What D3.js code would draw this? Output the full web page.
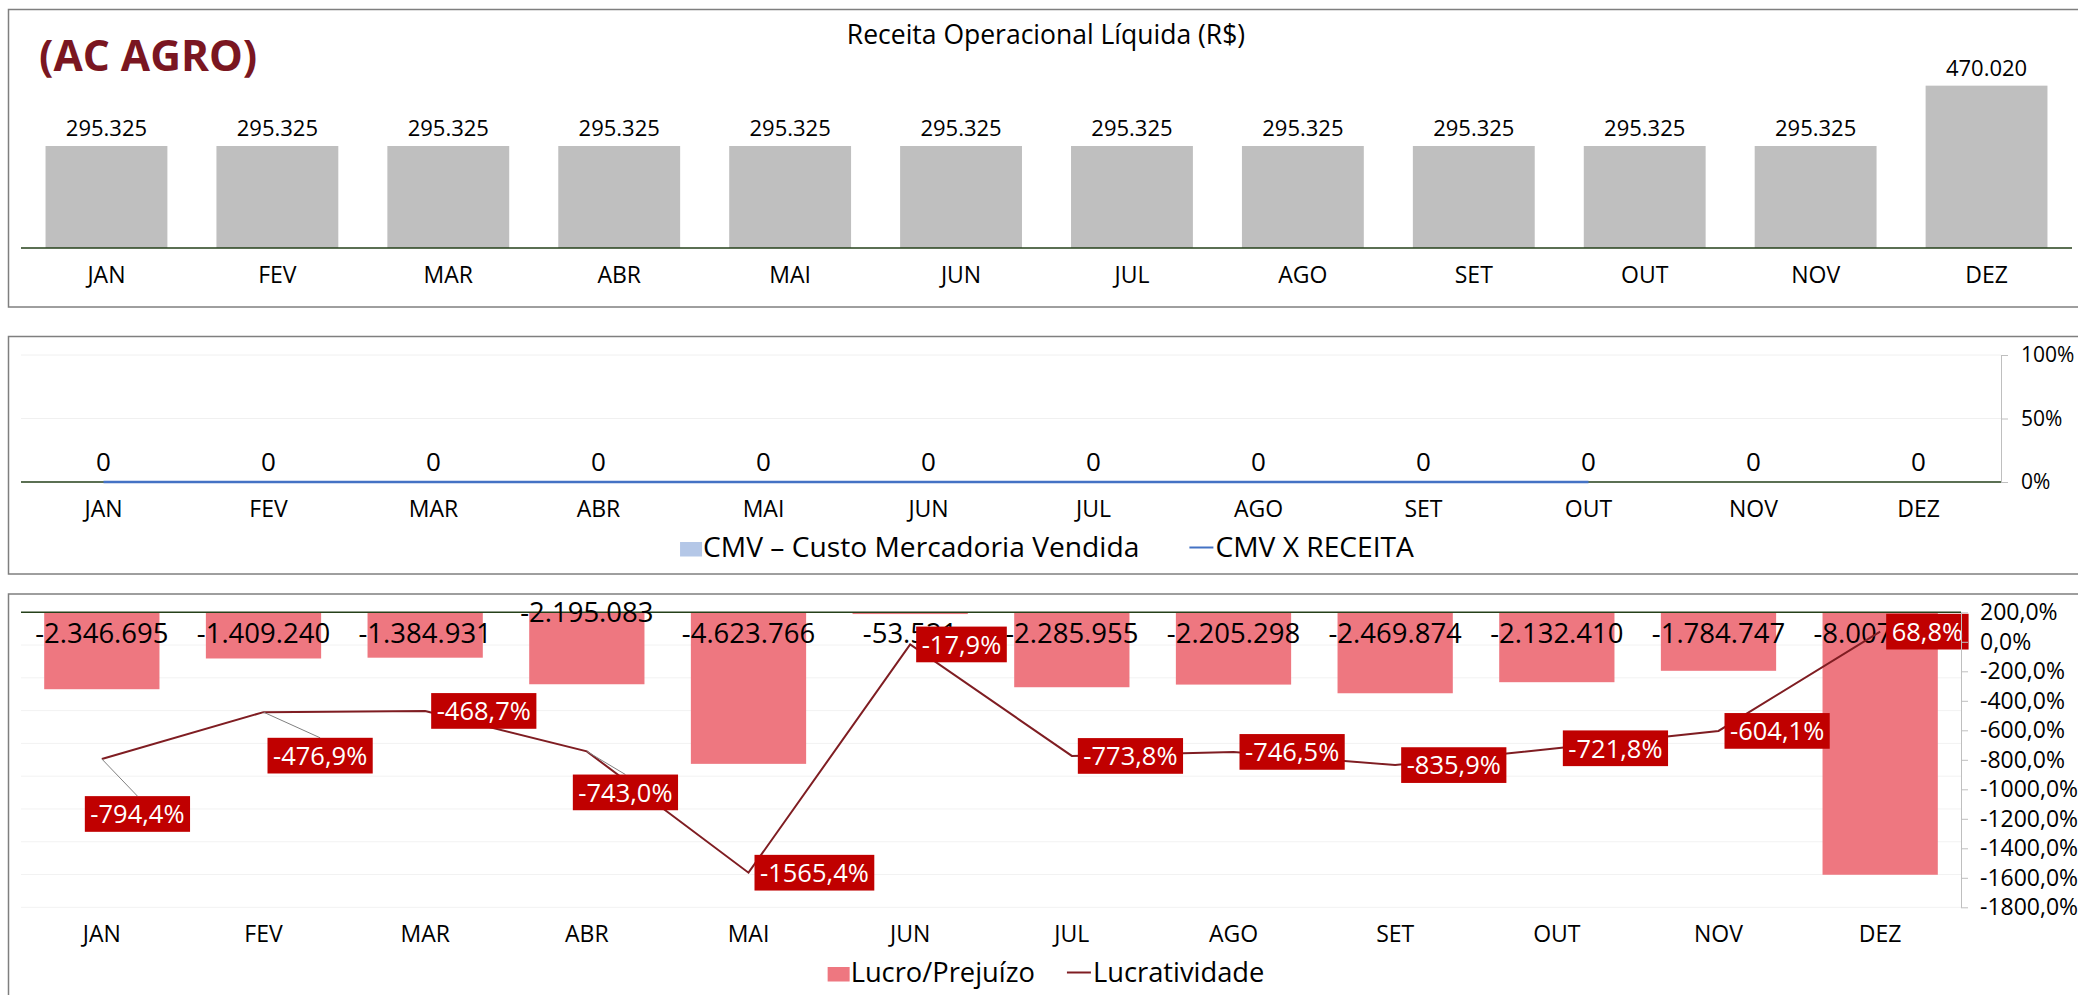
<!DOCTYPE html>
<html>
<head>
<meta charset="utf-8">
<script src="https://cdn.jsdelivr.net/npm/d3@7"></script>
<style>
body { margin: 0; background: #fff; }
text { font-family: "Open Sans", sans-serif; fill: #000; }
</style>
</head>
<body>
<div id="chart"></div>
<script>
var months = ["JAN", "FEV", "MAR", "ABR", "MAI", "JUN", "JUL", "AGO", "SET", "OUT", "NOV", "DEZ"];
var receita = [295325, 295325, 295325, 295325, 295325, 295325, 295325, 295325, 295325, 295325, 295325, 470020];
var cmv = [0, 0, 0, 0, 0, 0, 0, 0, 0, 0, 0, 0];
var cmvReceita = [0, 0, 0, 0, 0, 0, 0, 0, 0, 0, null, null];
var lucro = [-2346695, -1409240, -1384931, -2195083, -4623766, -53521, -2285955, -2205298, -2469874, -2132410, -1784747, -8007256];
var lucratividade = [-794.4, -476.9, -468.7, -743.0, -1565.4, -17.9, -773.8, -746.5, -835.9, -721.8, -604.1, 68.8];
var pctTicks2 = [0, 0.5, 1];
var pctTicks3 = [200, 0, -200, -400, -600, -800, -1000, -1200, -1400, -1600, -1800];

// labels Excel moved by hand (layout only)
var labelNudge = { JAN: [-23, 55], FEV: [-2, 43.5], ABR: [-20, 41] };
var barLabelNudge = { ABR: -21.5 };

(function() {
    var width = 2078,
        height = 995;

    var locale = d3.formatLocale({ decimal: ",", thousands: ".", grouping: [3], currency: ["R$", ""], minus: "-" });
    var fmtNum = locale.format(",.0f"),
        fmtPct0 = locale.format(".0%"),
        fmt1 = locale.format(".1f"),
        fmtPct1 = function(v) { return fmt1(v) + "%"; };

    var baseColor = "#25411a";

    var svg = d3.select("#chart")
        .append("svg")
        .attr("width", width)
        .attr("height", height);

    function frame(y0, y1) {
        svg.append("rect")
            .attr("x", 8.5)
            .attr("y", y0)
            .attr("width", 2100)
            .attr("height", y1 - y0)
            .attr("fill", "none")
            .attr("stroke", "#7f7f7f")
            .attr("stroke-width", 1.5);
    }

    function categories(x, y, size) {
        var g = svg.append("g")
            .attr("transform", "translate(0," + y + ")")
            .call(d3.axisBottom(x).tickSize(0));
        g.select(".domain").remove();
        g.selectAll("text")
            .attr("y", 0)
            .attr("dy", null)
            .style("font-family", "Open Sans")
            .style("font-size", size + "px")
            .attr("fill", "#000");
    }

    function legend(items, cx, base, gap, size) {
        var g = svg.append("g"),
            cur = 0;
        items.forEach(function(it, i) {
            if (it.type == "rect") {
                g.append("rect")
                    .attr("x", cur).attr("y", base - 14.5)
                    .attr("width", 22).attr("height", 14.5)
                    .attr("fill", it.color);
            } else {
                g.append("line")
                    .attr("x1", cur).attr("x2", cur + 24)
                    .attr("y1", base - 9).attr("y2", base - 9)
                    .attr("stroke", it.color)
                    .attr("stroke-width", 2);
            }
            cur += it.type == "rect" ? 23 : 26;
            var t = g.append("text")
                .attr("x", cur).attr("y", base)
                .style("font-size", size + "px")
                .text(it.label);
            cur += t.node().getComputedTextLength();
            if (i < items.length - 1) cur += gap;
        });
        g.attr("transform", "translate(" + (cx - cur / 2) + ",0)");
    }

    /* ---------- panel 1 : Receita ---------- */
    frame(9.5, 307);

    var x1 = d3.scaleBand().domain(months).range([21, 2072]).paddingInner(0.287).paddingOuter(0.1435);
    var y1 = d3.scaleLinear().domain([0, 500000]).range([248, 75.3]);

    svg.append("text")
        .attr("x", 1046).attr("y", 44)
        .attr("text-anchor", "middle")
        .style("font-size", "26.5px")
        .text("Receita Operacional Líquida (R$)");

    svg.append("text")
        .attr("x", 39).attr("y", 71)
        .style("font-size", "42.5px")
        .style("font-weight", "bold")
        .style("fill", "#7a1621")
        .text("(AC AGRO)");

    svg.selectAll(".rec")
        .data(receita)
        .enter().append("rect")
        .attr("class", "rec")
        .attr("x", function(d, i) { return x1(months[i]); })
        .attr("width", x1.bandwidth())
        .attr("y", function(d) { return y1(d); })
        .attr("height", function(d) { return y1(0) - y1(d); })
        .attr("fill", "#bfbfbf");

    svg.selectAll(".rec-label")
        .data(receita)
        .enter().append("text")
        .attr("class", "rec-label")
        .attr("x", function(d, i) { return x1(months[i]) + x1.bandwidth() / 2; })
        .attr("y", function(d) { return y1(d) - 10; })
        .attr("text-anchor", "middle")
        .style("font-size", "22px")
        .text(function(d) { return fmtNum(d); });

    svg.append("line")
        .attr("x1", 21).attr("x2", 2072)
        .attr("y1", y1(0)).attr("y2", y1(0))
        .attr("stroke", baseColor).attr("stroke-width", 1.5);

    categories(x1, 283, 23);

    /* ---------- panel 2 : CMV ---------- */
    frame(336.5, 574);

    var x2 = d3.scaleBand().domain(months).range([21, 2001]).paddingInner(0.287).paddingOuter(0.1435);
    var y2 = d3.scaleLinear().domain([0, 1]).range([482, 355]);

    svg.selectAll(".grid2")
        .data(pctTicks2.slice(1))
        .enter().append("line")
        .attr("x1", 21).attr("x2", 2001)
        .attr("y1", function(d) { return y2(d); })
        .attr("y2", function(d) { return y2(d); })
        .attr("stroke", "#f0f0f0");

    svg.selectAll(".cmv")
        .data(cmv)
        .enter().append("rect")
        .attr("x", function(d, i) { return x2(months[i]); })
        .attr("width", x2.bandwidth())
        .attr("y", function(d) { return y2(d); })
        .attr("height", function(d) { return y2(0) - y2(d); })
        .attr("fill", "#b4c7e7");

    svg.append("line")
        .attr("x1", 21).attr("x2", 2001)
        .attr("y1", y2(0)).attr("y2", y2(0))
        .attr("stroke", baseColor).attr("stroke-width", 1.5);

    var line2 = d3.line()
        .defined(function(d) { return d != null; })
        .x(function(d, i) { return x2(months[i]) + x2.bandwidth() / 2; })
        .y(function(d) { return y2(d); });

    svg.append("path")
        .datum(cmvReceita)
        .attr("d", line2)
        .attr("fill", "none")
        .attr("stroke", "#4472c4")
        .attr("stroke-width", 2.5);

    svg.selectAll(".cmv-label")
        .data(cmv)
        .enter().append("text")
        .attr("x", function(d, i) { return x2(months[i]) + x2.bandwidth() / 2; })
        .attr("y", function(d) { return y2(d) - 11.5; })
        .attr("text-anchor", "middle")
        .style("font-size", "26px")
        .text(function(d) { return fmtNum(d); });

    var ax2 = svg.append("g")
        .attr("transform", "translate(2001,0)")
        .call(d3.axisRight(y2).tickValues(pctTicks2).tickSize(7).tickSizeOuter(0).tickPadding(13).tickFormat(fmtPct0));
    ax2.select(".domain").attr("stroke", "#bfbfbf");
    ax2.selectAll("line").attr("stroke", "#bfbfbf");
    ax2.selectAll("text").style("font-family", "Open Sans").style("font-size", "21px").attr("fill", "#000");

    categories(x2, 517, 23);

    legend([
        { type: "rect", color: "#b4c7e7", label: "CMV – Custo Mercadoria Vendida" },
        { type: "line", color: "#4472c4", label: "CMV X RECEITA" }
    ], 1047, 556.5, 50, 28.2);

    /* ---------- panel 3 : Lucro ---------- */
    frame(594, 1010);

    var x3 = d3.scaleBand().domain(months).range([21, 1961]).paddingInner(0.287).paddingOuter(0.1435);
    var yBar = d3.scaleLinear().domain([-9000000, 0]).range([907.3, 612.3]);
    var yPct = d3.scaleLinear().domain([-1800, 200]).range([907.3, 612.3]);
    var cx3 = function(i) { return x3(months[i]) + x3.bandwidth() / 2; };

    svg.selectAll(".grid3")
        .data(yBar.ticks(9).filter(function(d) { return d < 0; }))
        .enter().append("line")
        .attr("x1", 21).attr("x2", 1961)
        .attr("y1", function(d) { return yBar(d); })
        .attr("y2", function(d) { return yBar(d); })
        .attr("stroke", "#f2f2f2");

    svg.selectAll(".lucro")
        .data(lucro)
        .enter().append("rect")
        .attr("x", function(d, i) { return x3(months[i]); })
        .attr("width", x3.bandwidth())
        .attr("y", yBar(0))
        .attr("height", function(d) { return yBar(d) - yBar(0); })
        .attr("fill", "#ee7780");

    svg.append("line")
        .attr("x1", 21).attr("x2", 1961)
        .attr("y1", yBar(0)).attr("y2", yBar(0))
        .attr("stroke", baseColor).attr("stroke-width", 1.5);

    svg.selectAll(".lucro-label")
        .data(lucro)
        .enter().append("text")
        .attr("x", function(d, i) { return cx3(i); })
        .attr("y", function(d, i) { return yBar(0) + 31 + (barLabelNudge[months[i]] || 0); })
        .attr("text-anchor", "middle")
        .style("font-size", "27.5px")
        .text(function(d) { return fmtNum(d); });

    var line3 = d3.line()
        .x(function(d, i) { return cx3(i); })
        .y(function(d) { return yPct(d); });

    svg.append("path")
        .datum(lucratividade)
        .attr("d", line3)
        .attr("fill", "none")
        .attr("stroke", "#7f1d22")
        .attr("stroke-width", 2);

    // red data labels, with leader lines where they were dragged away
    lucratividade.forEach(function(v, i) {
        var px = cx3(i), py = yPct(v),
            nudge = labelNudge[months[i]] || [0, 0],
            g = svg.append("g");
        var t = g.append("text")
            .attr("y", 0)
            .style("font-size", "25.5px")
            .style("fill", "#fff")
            .text(fmtPct1(v));
        var w = t.node().getComputedTextLength() + 11,
            h = 35.7,
            left = px + 6 + nudge[0],
            cy = py + nudge[1];
        if (nudge[1] != 0) {
            svg.insert("line", "g.red-label")
                .attr("x1", px).attr("y1", py)
                .attr("x2", left + w / 2).attr("y2", cy - h / 2)
                .attr("stroke", "#808080")
                .attr("stroke-width", 1);
        }
        g.attr("class", "red-label");
        g.insert("rect", "text")
            .attr("x", left).attr("y", cy - h / 2)
            .attr("width", w).attr("height", h)
            .attr("fill", "#c00000");
        t.attr("x", left + 5.5).attr("y", cy + 9.3);
    });

    var ax3 = svg.append("g")
        .attr("transform", "translate(1961,0)")
        .call(d3.axisRight(yPct).tickValues(pctTicks3).tickSize(7).tickSizeOuter(0).tickPadding(12).tickFormat(fmtPct1));
    ax3.select(".domain").attr("stroke", "#bfbfbf");
    ax3.selectAll("line").attr("stroke", "#bfbfbf");
    ax3.selectAll("text").style("font-family", "Open Sans").style("font-size", "23px").attr("fill", "#000");

    categories(x3, 942, 23);

    legend([
        { type: "rect", color: "#ee7780", label: "Lucro/Prejuízo" },
        { type: "line", color: "#7f1d22", label: "Lucratividade" }
    ], 1046, 981.5, 32, 27.3);
})();
</script>
</body>
</html>
